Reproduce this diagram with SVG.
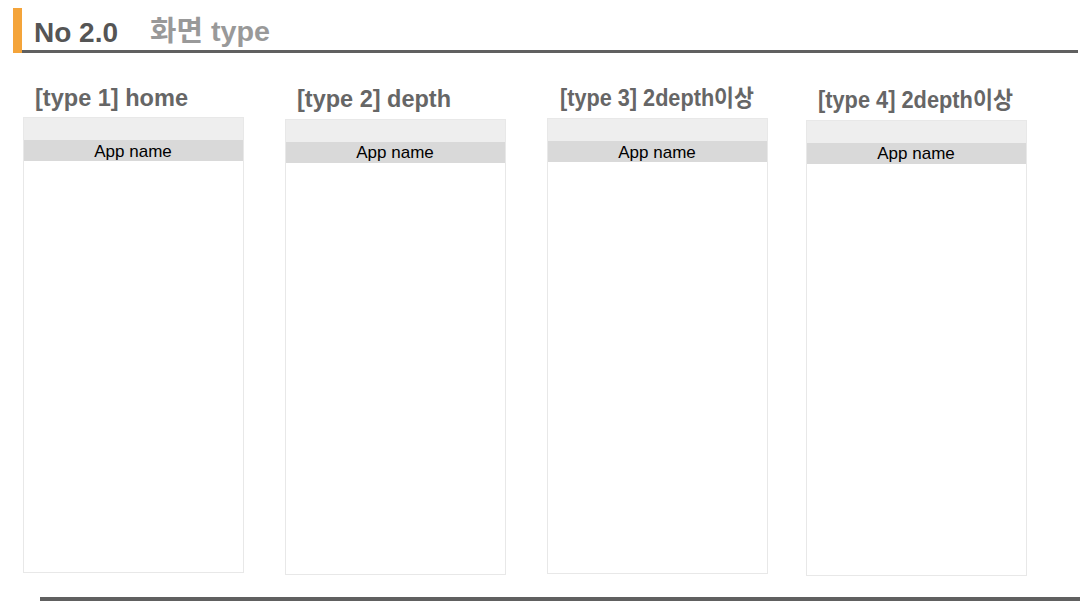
<svg xmlns="http://www.w3.org/2000/svg" width="1080" height="616" viewBox="0 0 1080 616">
<style>
.t{font-family:"Liberation Sans","Noto Sans CJK KR",sans-serif;font-weight:bold;font-size:23px;fill:#666}
.app{font-family:"Liberation Sans",sans-serif;font-size:17px;fill:#000;text-anchor:middle}
.frame{fill:#fff;stroke:#e8e8e8;stroke-width:1}
.bar1{fill:#eeeeee}
.bar2{fill:#d9d9d9}
</style>
<rect width="1080" height="616" fill="#fff"/>
<g id="header">
<rect x="13" y="8" width="9" height="45" fill="#f4a43a"/>
<rect x="22" y="50" width="1056" height="3" fill="#606060"/>
<text x="34" y="42" font-family="Liberation Sans,sans-serif" font-weight="bold" font-size="27" fill="#555" textLength="84" lengthAdjust="spacingAndGlyphs">No 2.0</text>
<text x="150" y="41" font-family="Liberation Sans,Noto Sans CJK KR,sans-serif" font-weight="bold" font-size="28" fill="#999" textLength="120" lengthAdjust="spacingAndGlyphs">화면 type</text>
</g>
<g id="type1">
<text class="t" x="35" y="106" textLength="153" lengthAdjust="spacingAndGlyphs">[type 1] home</text>
<rect class="frame" x="23.5" y="117.5" width="220" height="455"/>
<rect class="bar1" x="24" y="118" width="219" height="22"/>
<rect class="bar2" x="24" y="140" width="219" height="21"/>
<text class="app" x="133" y="157">App name</text>
</g>
<g id="type2">
<text class="t" x="297" y="107" textLength="154" lengthAdjust="spacingAndGlyphs">[type 2] depth</text>
<rect class="frame" x="285.5" y="119.5" width="220" height="455"/>
<rect class="bar1" x="286" y="120" width="219" height="22"/>
<rect class="bar2" x="286" y="142" width="219" height="21"/>
<text class="app" x="395" y="158">App name</text>
</g>
<g id="type3">
<text class="t" x="560" y="106" textLength="194" lengthAdjust="spacingAndGlyphs">[type 3] 2depth이상</text>
<rect class="frame" x="547.5" y="118.5" width="220" height="455"/>
<rect class="bar1" x="548" y="119" width="219" height="22"/>
<rect class="bar2" x="548" y="141" width="219" height="21"/>
<text class="app" x="657" y="158">App name</text>
</g>
<g id="type4">
<text class="t" x="818" y="108" textLength="195" lengthAdjust="spacingAndGlyphs">[type 4] 2depth이상</text>
<rect class="frame" x="806.5" y="120.5" width="220" height="455"/>
<rect class="bar1" x="807" y="121" width="219" height="22"/>
<rect class="bar2" x="807" y="143" width="219" height="21"/>
<text class="app" x="916" y="159">App name</text>
</g>
<g id="footer">
<rect x="40" y="597" width="1040" height="4" fill="#606060"/>
</g>
<g id="connectors"></g>
</svg>
